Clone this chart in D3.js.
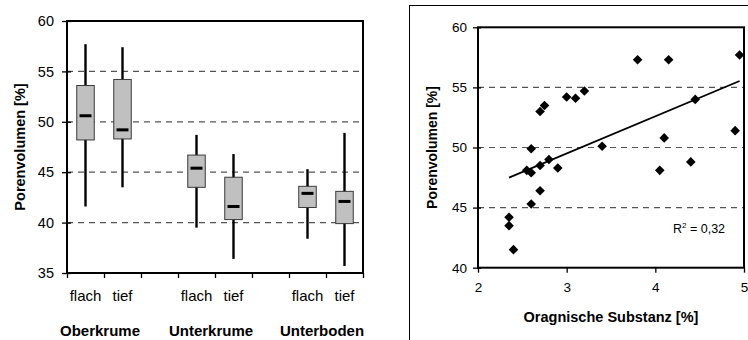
<!DOCTYPE html>
<html>
<head>
<script src="https://d3js.org/d3.v7.min.js"></script>
  <meta charset="utf-8">
  <title>Porenvolumen</title>
  <style>
    body { margin: 0; background: #fff; }
    svg text { font-family: Arial, "Liberation Sans", sans-serif; fill: #000; }
  </style>
</head>
<body>
<svg width="748" height="340"></svg>

<script>
	// left chart: box plots per horizon and depth
	var groups = ["Oberkrume", "Unterkrume", "Unterboden"];
	var depths = ["flach", "tief"];
	var whiskerMax = [57.7, 57.4, 48.7, 46.8, 45.3, 48.9];
	var boxTop     = [53.6, 54.2, 46.7, 44.5, 43.6, 43.1];
	var median     = [50.6, 49.2, 45.4, 41.6, 42.9, 42.1];
	var boxBottom  = [48.2, 48.3, 43.5, 40.3, 41.5, 39.9];
	var whiskerMin = [41.6, 43.5, 39.5, 36.4, 38.4, 35.7];
	var leftTicks  = [35, 40, 45, 50, 55, 60];

	// right chart: scatter of organic matter vs pore volume
	var organic = [2.35, 2.35, 2.4, 2.55, 2.6, 2.6, 2.6, 2.7, 2.7, 2.7, 2.75, 2.8, 2.9,
	               3.0, 3.1, 3.2, 3.4, 3.8, 4.15, 4.05, 4.1, 4.4, 4.45, 4.9, 4.95];
	var pores   = [44.2, 43.5, 41.5, 48.1, 47.9, 49.9, 45.3, 48.5, 46.4, 53.0, 53.5, 49.0, 48.3,
	               54.2, 54.1, 54.7, 50.1, 57.3, 57.3, 48.1, 50.8, 48.8, 54.0, 51.4, 57.7];
	var rightXTicks = [2, 3, 4, 5];
	var rightYTicks = [40, 45, 50, 55, 60];
	var rSquared = "0,32";

	var svg = d3.select("svg");

	//---------------- left chart ----------------
	var L = {left: 67, right: 363, top: 21, bottom: 273};

	// 8 slots: flach, tief, gap, flach, tief, gap, flach, tief
	var slots = [];
	groups.forEach(function(g, gi) {
		depths.forEach(function(d) { slots.push(g + "|" + d); });
		if (gi < groups.length - 1) slots.push("gap" + gi);
	});
	var boxes = [];
	groups.forEach(function(g, gi) {
		depths.forEach(function(d, di) {
			var i = gi * 2 + di;
			boxes.push({key: g + "|" + d, depth: d, max: whiskerMax[i], q3: boxTop[i],
				med: median[i], q1: boxBottom[i], min: whiskerMin[i]});
		});
	});

	var xl = d3.scaleBand().domain(slots).range([L.left, L.right]).padding(0);
	var yl = d3.scaleLinear().domain([35, 60]).range([L.bottom, L.top]);

	var left = svg.append("g");

	// dashed grid
	left.selectAll(".grid").data(leftTicks.filter(function(t) { return t > 35 && t < 60; }))
		.enter().append("line")
			.attr("x1", L.left).attr("x2", L.right)
			.attr("y1", function(d) { return yl(d); })
			.attr("y2", function(d) { return yl(d); })
			.attr("stroke", "#555").attr("stroke-width", 1.2)
			.attr("stroke-dasharray", "6,5");

	// y axis
	var yAxisL = left.append("g")
		.attr("transform", "translate(" + L.left + ",0)")
		.call(d3.axisLeft(yl).tickValues(leftTicks).tickSize(5).tickPadding(8));
	yAxisL.select(".domain").remove();
	yAxisL.selectAll(".tick line").attr("x1", 4).attr("stroke", "#000").attr("stroke-width", 1.3);
	yAxisL.selectAll(".tick text").attr("font-size", "14.5px").attr("font-family", "Arial, 'Liberation Sans', sans-serif");

	// x axis ticks at slot boundaries
	var slotEdge = d3.scaleLinear().domain([0, slots.length]).range([L.left, L.right]);
	var xAxisL = left.append("g")
		.attr("transform", "translate(0," + L.bottom + ")")
		.call(d3.axisBottom(slotEdge).tickValues(d3.range(slots.length + 1)).tickSize(5).tickFormat(""));
	xAxisL.select(".domain").remove();
	xAxisL.selectAll(".tick line").attr("stroke", "#000").attr("stroke-width", 1.3);

	// boxes
	var bw = 17.5;
	var bx = left.selectAll(".box").data(boxes).enter().append("g")
		.attr("transform", function(d) { return "translate(" + (xl(d.key) + xl.bandwidth() / 2) + ",0)"; });

	bx.append("line")
		.attr("y1", function(d) { return yl(d.max); })
		.attr("y2", function(d) { return yl(d.min); })
		.attr("stroke", "#000").attr("stroke-width", 2.4);
	bx.append("rect")
		.attr("x", -bw / 2).attr("width", bw)
		.attr("y", function(d) { return yl(d.q3); })
		.attr("height", function(d) { return yl(d.q1) - yl(d.q3); })
		.attr("fill", "#c0c0c0").attr("stroke", "#3a3a3a").attr("stroke-width", 1);
	bx.append("line")
		.attr("x1", -6).attr("x2", 6)
		.attr("y1", function(d) { return yl(d.med); })
		.attr("y2", function(d) { return yl(d.med); })
		.attr("stroke", "#000").attr("stroke-width", 3);

	// category labels
	left.selectAll(".depth").data(boxes).enter().append("text")
		.attr("x", function(d) { return xl(d.key) + xl.bandwidth() / 2; })
		.attr("y", 301)
		.attr("text-anchor", "middle")
		.attr("font-size", "15px")
		.text(function(d) { return d.depth; });

	left.selectAll(".group").data(groups).enter().append("text")
		.attr("x", function(g) { return xl(g + "|flach") + xl.bandwidth() - 4; })
		.attr("y", 336)
		.attr("text-anchor", "middle")
		.attr("font-size", "15px").attr("font-weight", "bold")
		.text(function(g) { return g; });

	// frame of plot area
	left.append("rect")
		.attr("x", L.left).attr("y", L.top)
		.attr("width", L.right - L.left).attr("height", L.bottom - L.top)
		.attr("fill", "none").attr("stroke", "#000").attr("stroke-width", 2);

	left.append("text")
		.attr("transform", "translate(25," + ((L.top + L.bottom) / 2) + ") rotate(-90)")
		.attr("text-anchor", "middle")
		.attr("font-size", "14.5px").attr("font-weight", "bold")
		.text("Porenvolumen [%]");

	//---------------- right chart ----------------
	var R = {left: 478, right: 744, top: 27.3, bottom: 267.7};
	var xr = d3.scaleLinear().domain([2, 5]).range([R.left, R.right]);
	var yr = d3.scaleLinear().domain([40, 60]).range([R.bottom, R.top]);

	var right = svg.append("g");

	// outer chart frame
	right.append("rect")
		.attr("x", 409.5).attr("y", 5.5).attr("width", 400).attr("height", 400)
		.attr("fill", "none").attr("stroke", "#000").attr("stroke-width", 1);

	right.selectAll(".grid").data(rightYTicks.filter(function(t) { return t > 40 && t < 60; }))
		.enter().append("line")
			.attr("x1", R.left).attr("x2", R.right)
			.attr("y1", function(d) { return yr(d); })
			.attr("y2", function(d) { return yr(d); })
			.attr("stroke", "#555").attr("stroke-width", 1.2)
			.attr("stroke-dasharray", "6,5");

	var yAxisR = right.append("g")
		.attr("transform", "translate(" + R.left + ",0)")
		.call(d3.axisLeft(yr).tickValues(rightYTicks).tickSize(5).tickPadding(6));
	yAxisR.select(".domain").remove();
	yAxisR.selectAll(".tick line").attr("x1", 3).attr("stroke", "#000").attr("stroke-width", 1.3);
	yAxisR.selectAll(".tick text").attr("font-size", "13.5px").attr("font-family", "Arial, 'Liberation Sans', sans-serif");

	var xAxisR = right.append("g")
		.attr("transform", "translate(0," + R.bottom + ")")
		.call(d3.axisBottom(xr).tickValues(rightXTicks).tickFormat(d3.format("d")).tickSize(5).tickPadding(10));
	xAxisR.select(".domain").remove();
	xAxisR.selectAll(".tick line").attr("stroke", "#000").attr("stroke-width", 1.3);
	xAxisR.selectAll(".tick text").attr("font-size", "13.5px").attr("font-family", "Arial, 'Liberation Sans', sans-serif");

	// linear trend line (least squares)
	var mx = d3.mean(organic), my = d3.mean(pores);
	var sxy = d3.sum(organic, function(v, i) { return (v - mx) * (pores[i] - my); });
	var sxx = d3.sum(organic, function(v) { return (v - mx) * (v - mx); });
	var slope = sxy / sxx, icpt = my - slope * mx;
	var ext = d3.extent(organic);
	right.append("path")
		.datum(ext)
		.attr("d", d3.line()
			.x(function(v) { return xr(v); })
			.y(function(v) { return yr(icpt + slope * v); }))
		.attr("fill", "none").attr("stroke", "#000").attr("stroke-width", 1.8);

	// diamonds
	var dh = 4.8;
	right.selectAll(".pt").data(organic).enter().append("path")
		.attr("transform", function(v, i) { return "translate(" + xr(v) + "," + yr(pores[i]) + ")"; })
		.attr("d", "M0," + (-dh) + "L" + dh + ",0L0," + dh + "L" + (-dh) + ",0Z")
		.attr("fill", "#000");

	right.append("rect")
		.attr("x", R.left).attr("y", R.top)
		.attr("width", R.right - R.left).attr("height", R.bottom - R.top)
		.attr("fill", "none").attr("stroke", "#000").attr("stroke-width", 2);

	var r2 = right.append("text")
		.attr("x", 673).attr("y", 233)
		.attr("font-size", "12.5px");
	r2.append("tspan").text("R");
	r2.append("tspan").attr("dy", -5).attr("font-size", "8px").text("2");
	r2.append("tspan").attr("dy", 5).text(" = " + rSquared);

	right.append("text")
		.attr("x", (R.left + R.right) / 2).attr("y", 322)
		.attr("text-anchor", "middle")
		.attr("font-size", "14.5px").attr("font-weight", "bold")
		.text("Oragnische Substanz [%]");

	right.append("text")
		.attr("transform", "translate(437," + ((R.top + R.bottom) / 2) + ") rotate(-90)")
		.attr("text-anchor", "middle")
		.attr("font-size", "14px").attr("font-weight", "bold")
		.text("Porenvolumen [%]");
</script>
</body>
</html>
